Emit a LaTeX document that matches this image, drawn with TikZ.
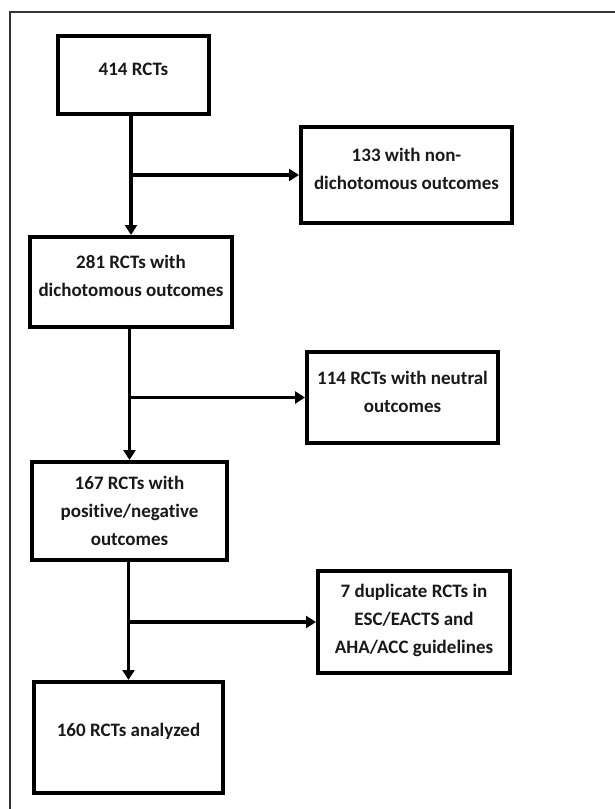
\documentclass[tikz,border=0pt]{standalone}
\usepackage{fontspec}
\setmainfont{Carlito}[Ligatures=NoCommon]
\usetikzlibrary{arrows.meta}
\begin{document}
\begin{tikzpicture}[x=1pt,y=-1pt,
  box/.style={draw=black, line width=4pt, fill=white, inner sep=0pt},
  lbl/.style={font=\bfseries\fontsize{19}{28}\selectfont, align=center, text=black!90},
  arr/.style={line width=3.2pt, -{Triangle[length=10pt,width=12pt]}}]
\useasboundingbox[fill=white] (0,0) rectangle (615,809);
\draw[line width=1.5pt, draw=black!80] (10,812) -- (10,12) -- (618,12);
\node[box, minimum width=151, minimum height=78,
  label={[lbl, yshift=6pt]center:414 RCTs}] (b1) at (133.5,75) {};
\node[box, minimum width=211, minimum height=96,
  label={[lbl, yshift=6pt]center:133 with non-\\dichotomous outcomes}] (b2) at (406.5,175) {};
\node[box, minimum width=202, minimum height=90,
  label={[lbl, yshift=6pt]center:281 RCTs with\\dichotomous outcomes}] (b3) at (131,282) {};
\node[box, minimum width=191, minimum height=91,
  label={[lbl, yshift=6pt]center:114 RCTs with neutral\\outcomes}] (b4) at (402.5,397.5) {};
\node[box, minimum width=195, minimum height=98,
  label={[lbl]center:167 RCTs with\\positive/negative\\outcomes}] (b5) at (129.5,511) {};
\node[box, minimum width=192, minimum height=102,
  label={[lbl, yshift=2pt]center:7 duplicate RCTs in\\ESC/EACTS and\\AHA/ACC guidelines}] (b6) at (414,622) {};
\node[box, minimum width=189, minimum height=111,
  label={[lbl, yshift=6pt]center:160 RCTs analyzed}] (b7) at (128.5,737.5) {};
\coordinate (t1) at (b3.north |- b1.south);
\coordinate (t2) at (b5.north |- b3.south);
\coordinate (t3) at (b7.north |- b5.south);
\draw[arr] (t1) -- (b3.north);
\draw[arr] (t1 |- b2.west) -- (b2.west);
\draw[arr] (t2) -- (b5.north);
\draw[arr] (t2 |- b4.west) -- (b4.west);
\draw[arr] (t3) -- (b7.north);
\draw[arr] (t3 |- b6.west) -- (b6.west);
\end{tikzpicture}
\end{document}
